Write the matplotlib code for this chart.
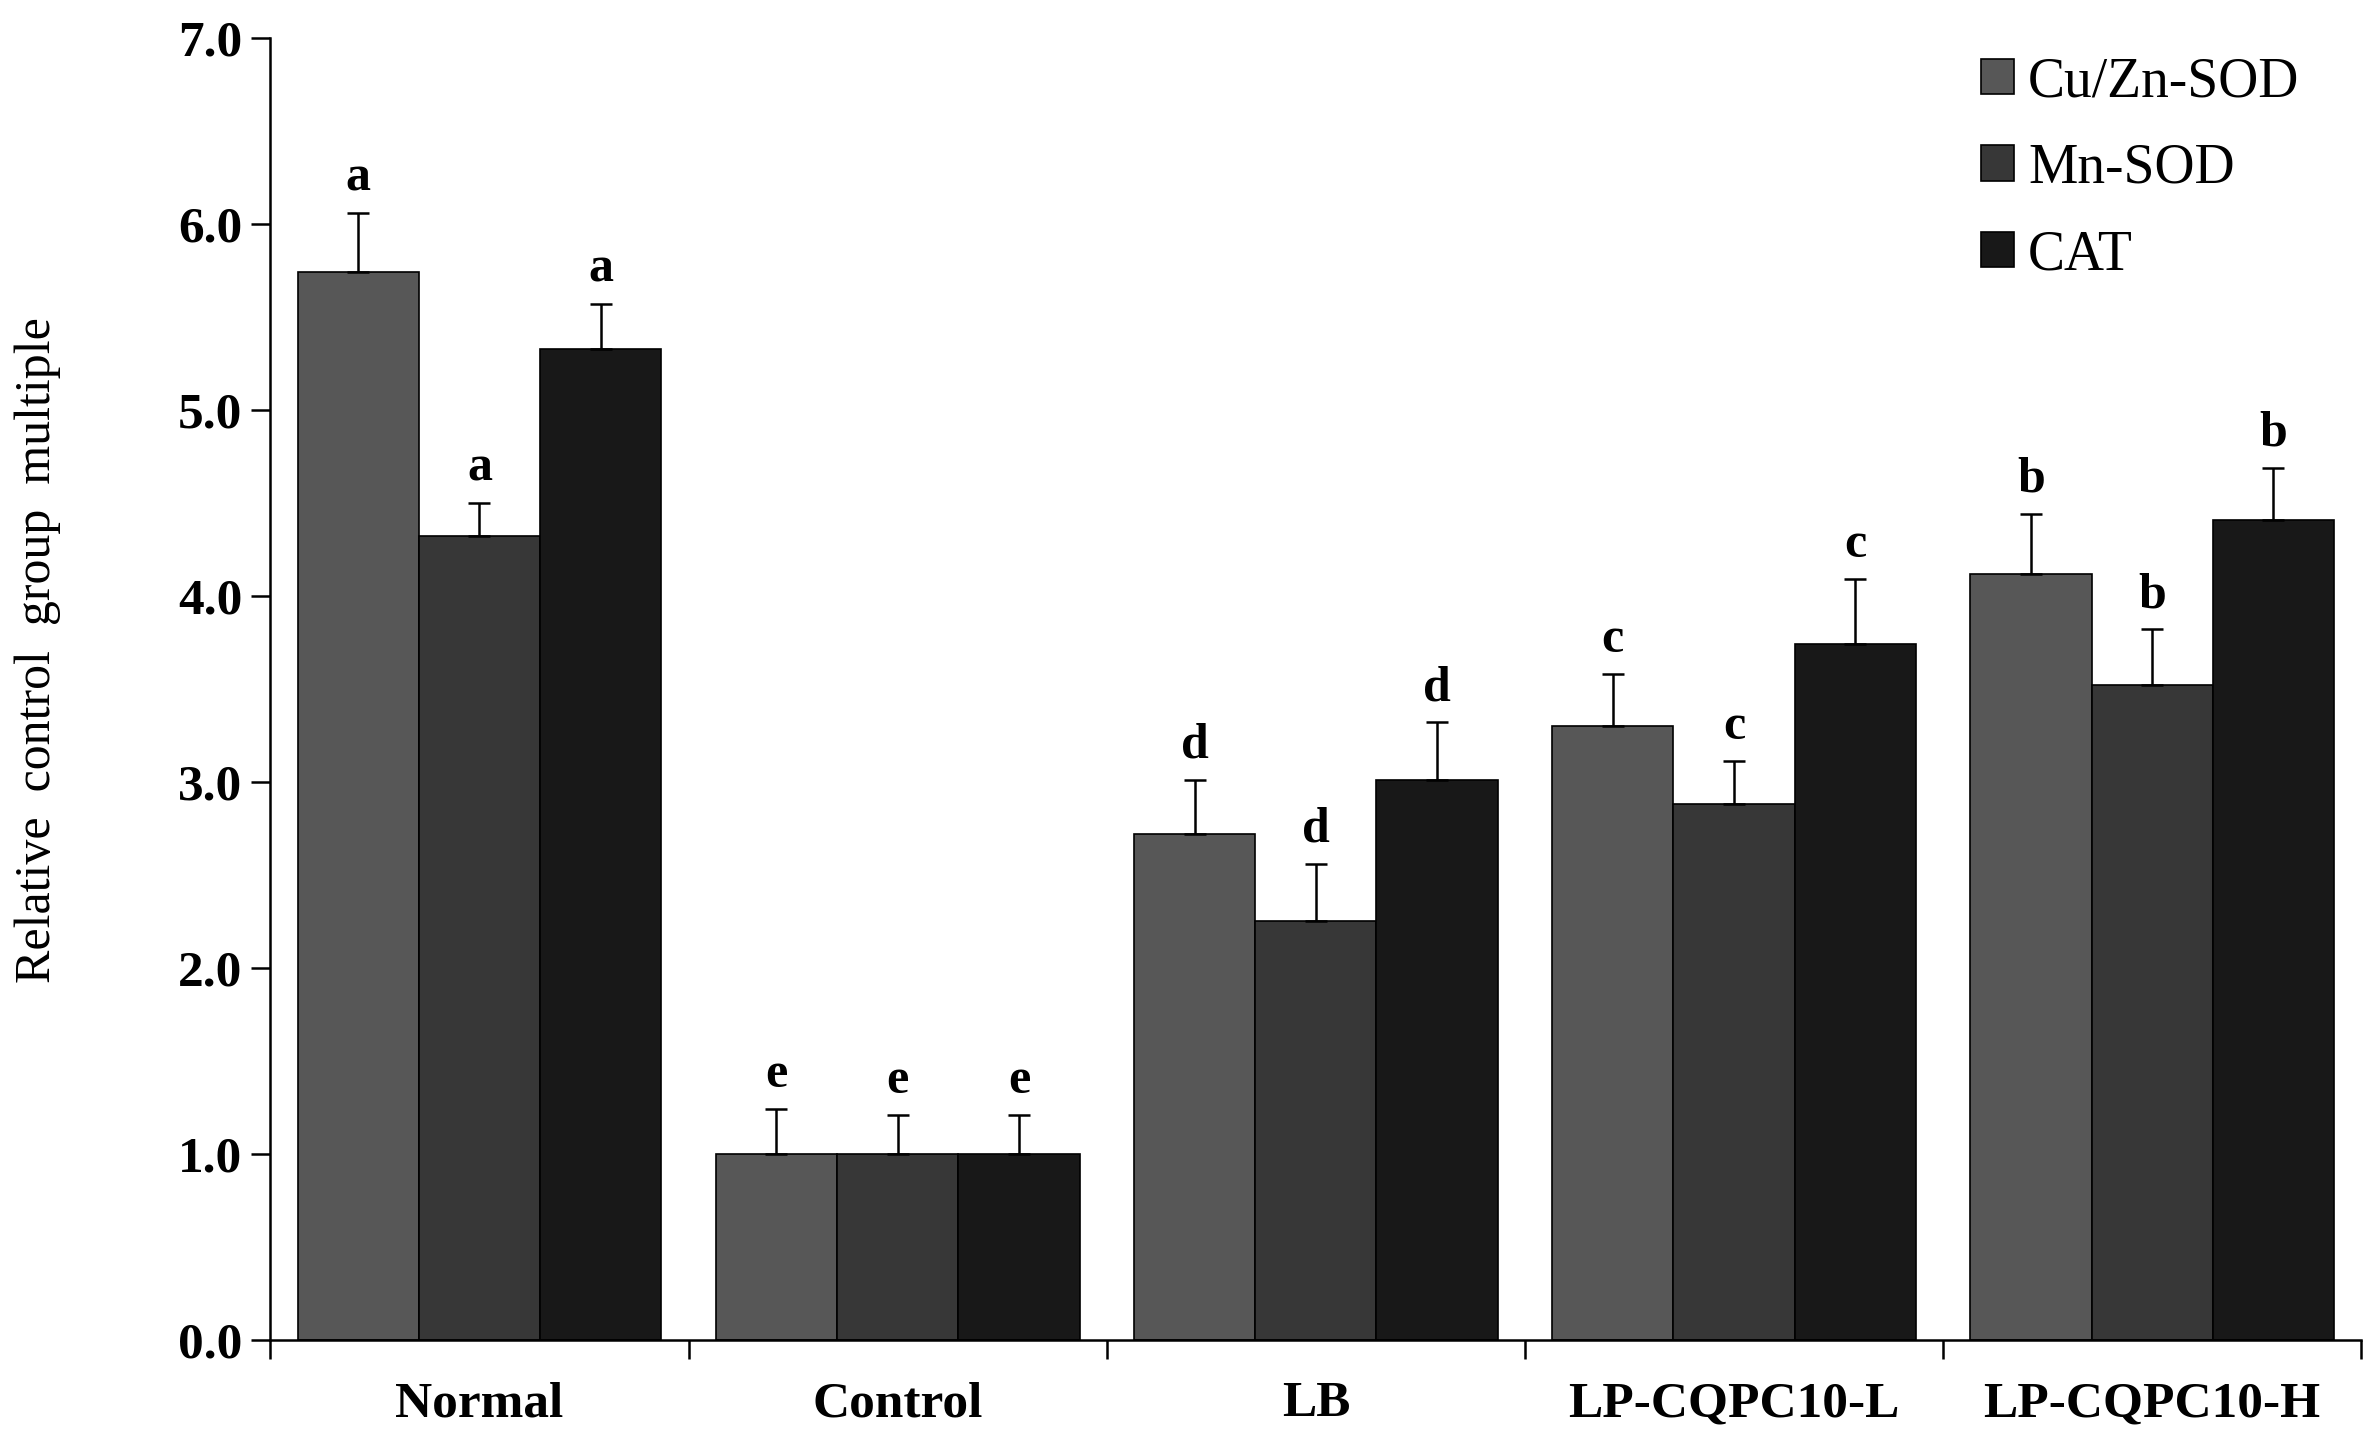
import numpy as np
import matplotlib.pyplot as plt
from matplotlib.ticker import FixedLocator, NullFormatter

groups = ["Normal", "Control", "LB", "LP-CQPC10-L", "LP-CQPC10-H"]
series = ["Cu/Zn-SOD", "Mn-SOD", "CAT"]
cuzn = [5.74, 1.00, 2.72, 3.30, 4.12]
mn = [4.32, 1.00, 2.25, 2.88, 3.52]
cat = [5.33, 1.00, 3.01, 3.74, 4.41]
cuzn_err = [0.32, 0.24, 0.29, 0.28, 0.32]
mn_err = [0.18, 0.21, 0.31, 0.23, 0.30]
cat_err = [0.24, 0.21, 0.31, 0.35, 0.28]
letters = [["a", "e", "d", "c", "b"],
           ["a", "e", "d", "c", "b"],
           ["a", "e", "d", "c", "b"]]
colors = ["#575757", "#373737", "#181818"]

plt.rcParams['font.family'] = ['Liberation Serif', 'DejaVu Serif']

fig = plt.figure(figsize=(23.76, 14.43), dpi=100)
ax = fig.add_axes([0.1138, 0.0716, 0.880, 0.9021])

x = np.arange(len(groups))
w = 0.29
vals = [cuzn, mn, cat]
errs = [cuzn_err, mn_err, cat_err]
for i in range(3):
    pos = x + (i - 1) * w
    ax.bar(pos, vals[i], width=w, color=colors[i], edgecolor="black",
           linewidth=1.2, label=series[i], zorder=2)
    ax.errorbar(pos, vals[i], yerr=[np.zeros(len(groups)), errs[i]], fmt="none",
                ecolor="black", elinewidth=1.8, capsize=8, capthick=1.8, zorder=3)
    for j in range(len(groups)):
        ax.text(pos[j], vals[i][j] + errs[i][j] + 0.06, letters[i][j],
                ha="center", va="bottom", fontsize=36, fontweight="bold")

ax.set_xlim(-0.5, len(groups) - 0.5)
ax.set_ylim(0, 7.0)
ax.set_yticks(np.arange(0, 7.01, 1.0))
ax.set_yticklabels([f"{v:.1f}" for v in np.arange(0, 7.01, 1.0)],
                   fontsize=37, fontweight="bold")
ax.set_xticks(x)
ax.set_xticklabels(groups, fontsize=37, fontweight="bold")
ax.tick_params(axis="x", which="major", length=0, pad=30)
ax.xaxis.set_minor_locator(FixedLocator(np.arange(-0.5, len(groups), 1.0)))
ax.xaxis.set_minor_formatter(NullFormatter())
ax.tick_params(axis="x", which="minor", length=14, width=1.8, direction="out")
ax.tick_params(axis="y", length=14, width=1.8, direction="out", pad=6)

ax.spines["top"].set_visible(False)
ax.spines["right"].set_visible(False)
ax.spines["left"].set_linewidth(1.8)
ax.spines["bottom"].set_linewidth(1.8)

ax.set_ylabel("Relative  control  group  multiple", fontsize=36)
ax.yaxis.set_label_coords(-0.10, 0.53)

# legend top-right, square patches, no frame
leg = ax.legend(loc="upper right", bbox_to_anchor=(0.981, 1.003), frameon=False,
                fontsize=40, handlelength=0.6, handleheight=0.6,
                handletextpad=0.25, labelspacing=0.62, borderaxespad=0)

fig.savefig("out.png", dpi=100)
